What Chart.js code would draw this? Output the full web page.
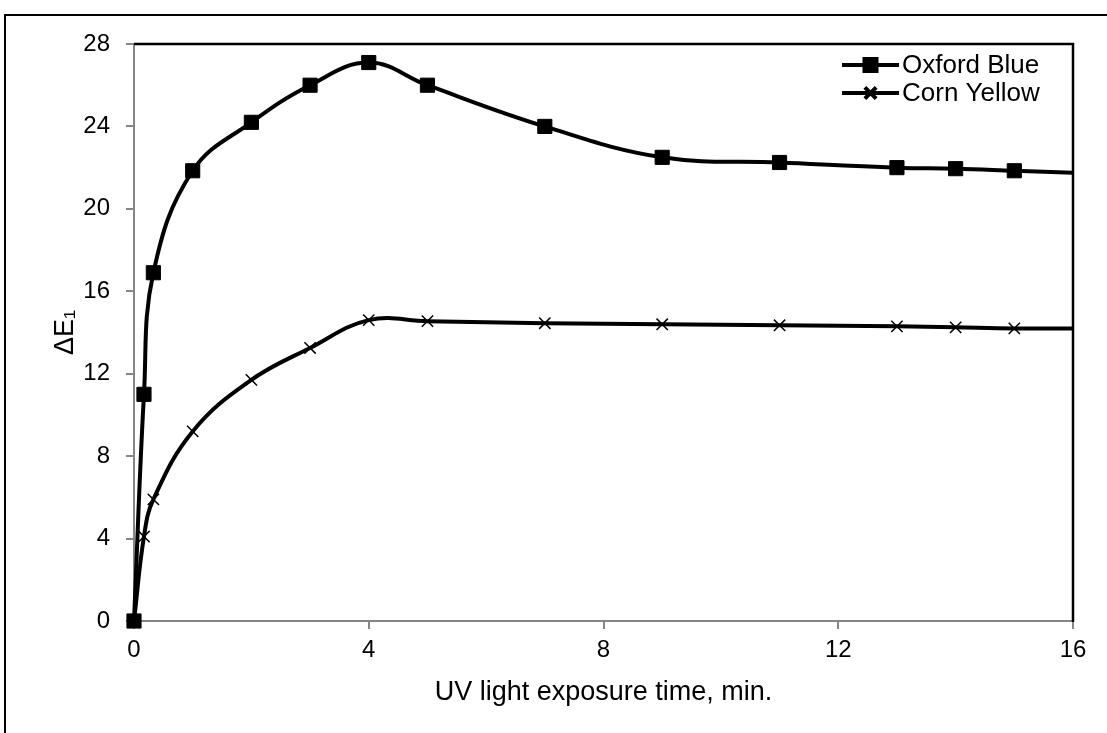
<!DOCTYPE html>
<html>
<head>
<meta charset="utf-8">
<script src="https://cdn.jsdelivr.net/npm/chart.js@4.4.1/dist/chart.umd.min.js"></script>
<style>
  html, body { margin: 0; padding: 0; background: #fff; width: 1107px; height: 733px; overflow: hidden; }
  #wrap { position: relative; width: 1107px; height: 733px; }
  #frame { position: absolute; left: 4px; top: 14px; width: 1200px; height: 900px; border: 2px solid #000; box-sizing: border-box; pointer-events: none; }
  canvas { position: absolute; left: 0; top: 0; }
</style>
</head>
<body>
<div id="wrap">
  <div id="frame"></div>
  <canvas id="c" width="1107" height="733"></canvas>
</div>
<script>
// ---- data ----
const timesMin   = [0, 0.17, 0.33, 1, 2, 3, 4, 5, 7, 9, 11, 13, 14, 15, 16];
const oxfordBlue = [0, 11.0, 16.9, 21.85, 24.2, 26.0, 27.1, 26.0, 24.0, 22.5, 22.25, 22.0, 21.95, 21.85, 21.75];
const cornYellow = [0, 4.1, 5.9, 9.2, 11.7, 13.25, 14.6, 14.55, 14.45, 14.4, 14.35, 14.3, 14.25, 14.2, 14.2];
const seriesNames = ['Oxford Blue', 'Corn Yellow'];
const xTickValues = [0, 4, 8, 12, 16];
const yTickValues = [0, 4, 8, 12, 16, 20, 24, 28];
const xTitle = 'UV light exposure time, min.';
const yTitle = 'ΔE\u2081';

const FONT = '"Liberation Sans", Arial, sans-serif';
const AXIS_GRAY = '#868686';

function toPoints(xs, ys) { return xs.map((x, i) => ({ x: x, y: ys[i] })); }
const lastIdx = timesMin.length - 1;

const framePlugin = {
  id: 'frame',
  afterDatasetsDraw(chart) {
    const { ctx, chartArea: a } = chart;
    ctx.save();
    ctx.strokeStyle = '#000';
    ctx.lineWidth = 2.5;
    ctx.beginPath();
    ctx.moveTo(a.left, a.top);
    ctx.lineTo(a.right, a.top);
    ctx.lineTo(a.right, a.bottom + 1);
    ctx.stroke();
    ctx.restore();
  }
};

const legendPlugin = {
  id: 'insideLegend',
  afterDraw(chart) {
    const { ctx, chartArea: a } = chart;
    const rows = [65, 93];
    ctx.save();
    chart.data.datasets.forEach((ds, i) => {
      const y = rows[i];
      const x0 = a.right - 231, x1 = a.right - 174, xm = (x0 + x1) / 2;
      ctx.strokeStyle = '#000';
      ctx.lineWidth = 4;
      ctx.beginPath(); ctx.moveTo(x0, y); ctx.lineTo(x1, y); ctx.stroke();
      Chart.helpers.drawPoint(ctx, {
        pointStyle: ds.pointStyle, radius: ds.legendRadius, borderWidth: ds.pointBorderWidth
      }, xm, y);
      ctx.fillStyle = '#000';
      ctx.font = '26px ' + FONT;
      ctx.textAlign = 'left';
      ctx.textBaseline = 'middle';
      ctx.fillText(ds.label, x1 + 3, y + 1);
    });
    ctx.restore();
  }
};

const chart = new Chart(document.getElementById('c'), {
  type: 'line',
  data: {
    datasets: [
      {
        label: seriesNames[0],
        data: toPoints(timesMin, oxfordBlue),
        borderColor: '#000',
        backgroundColor: '#000',
        borderWidth: 4,
        tension: 0.4,
        clip: false,
        pointStyle: 'rect',
        pointRadius: (c) => c.dataIndex === lastIdx ? 0 : 10,
        legendRadius: 8.5,
        pointBackgroundColor: '#000',
        pointBorderColor: '#000',
        pointBorderWidth: 1,
        fill: false
      },
      {
        label: seriesNames[1],
        data: toPoints(timesMin, cornYellow),
        borderColor: '#000',
        backgroundColor: '#000',
        borderWidth: 4,
        tension: 0.4,
        clip: false,
        pointStyle: 'crossRot',
        pointRadius: (c) => c.dataIndex === lastIdx ? 0 : 8,
        legendRadius: 8,
        pointBackgroundColor: '#000',
        pointBorderColor: '#000',
        pointBorderWidth: 1.5,
        fill: false
      }
    ]
  },
  options: {
    responsive: false,
    animation: false,
    devicePixelRatio: 1,
    layout: { padding: { left: 0, top: 44, right: 34, bottom: 0 } },
    plugins: { legend: { display: false }, tooltip: { enabled: false }, title: { display: false } },
    scales: {
      x: {
        type: 'linear',
        min: 0, max: 16,
        afterBuildTicks: (s) => { s.ticks = xTickValues.map(v => ({ value: v })); },
        afterFit: (s) => { s.height = 112; },
        border: { display: true, color: AXIS_GRAY, width: 2 },
        grid: { display: true, drawOnChartArea: false, drawTicks: true, tickLength: 8, color: AXIS_GRAY, lineWidth: 2 },
        ticks: { color: '#000', font: { family: FONT, size: 24 }, padding: 7, maxRotation: 0 },
        title: { display: true, text: xTitle, color: '#000', font: { family: FONT, size: 27 }, padding: { top: 0, bottom: 24 } }
      },
      y: {
        type: 'linear',
        min: 0, max: 28,
        afterBuildTicks: (s) => { s.ticks = yTickValues.map(v => ({ value: v })); },
        afterFit: (s) => { s.width = 134; },
        border: { display: true, color: AXIS_GRAY, width: 2 },
        grid: { display: true, drawOnChartArea: false, drawTicks: true, tickLength: 8, color: AXIS_GRAY, lineWidth: 2 },
        ticks: { color: '#000', font: { family: FONT, size: 24 }, padding: 16 },
        title: { display: true, text: yTitle, color: '#000', font: { family: FONT, size: 27 }, padding: { top: 49, bottom: 0 } }
      }
    }
  },
  plugins: [framePlugin, legendPlugin]
});
</script>
</body>
</html>
